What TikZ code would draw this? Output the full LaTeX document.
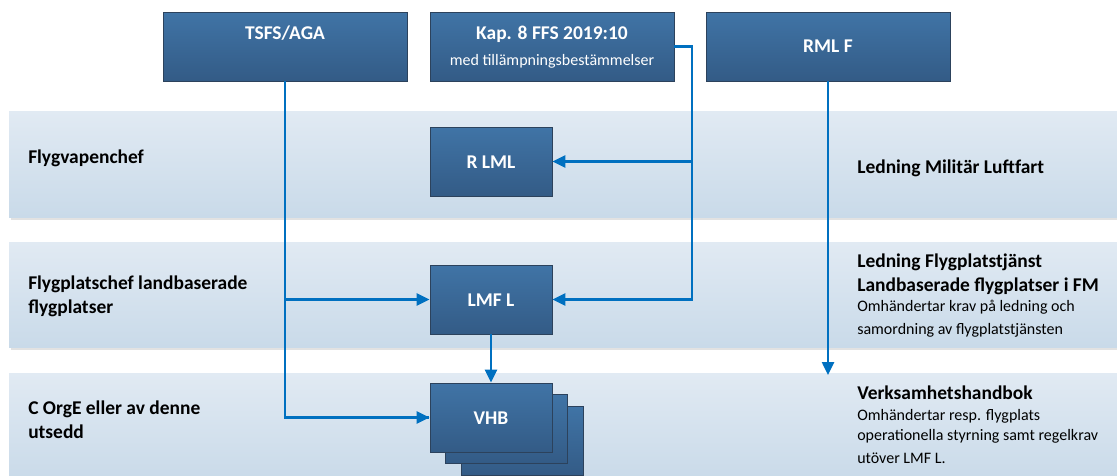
\documentclass[tikz,border=0pt]{standalone}
\usepackage{fontspec}
\setmainfont{Carlito}
\usetikzlibrary{arrows.meta,calc}
\definecolor{boxtop}{RGB}{64,116,166}
\definecolor{boxbot}{RGB}{51,91,134}
\definecolor{boxline}{RGB}{44,66,92}
\definecolor{bandtop}{RGB}{225,234,243}
\definecolor{bandbot}{RGB}{201,218,233}
\definecolor{shadowc}{RGB}{226,226,226}
\definecolor{conncol}{RGB}{0,112,192}
\tikzset{
  x=0.75pt, y=-0.75pt,
  box/.style={draw=boxline, line width=0.7pt, top color=boxtop, bottom color=boxbot,
    inner sep=0pt, minimum height={69*0.75pt}},
  boxtext/.style={text=white, font=\fontsize{14.6}{18}\selectfont\bfseries, anchor=base, inner sep=0pt},
  boxsmall/.style={text=white, font=\fontsize{12}{14}\selectfont, anchor=base, inner sep=0pt},
  lbl/.style={font=\fontsize{14.6}{18}\selectfont\bfseries, anchor=base west, inner sep=0pt},
  small/.style={font=\fontsize{12}{14}\selectfont, anchor=base west, inner sep=0pt},
  conn/.style={draw=conncol, line width=1.9pt, -{Triangle[length=9.75pt,width=9pt]}},
  plain/.style={draw=conncol, line width=1.9pt},
  band/.style={top color=bandtop, bottom color=bandbot, draw=none},
}
\begin{document}
\begin{tikzpicture}
\useasboundingbox (0,0) rectangle (1117,475);
\clip (0,0) rectangle (1117,475);
\fill[white] (0,0) rectangle (1117,475);
% bands
\fill[shadowc] (11,113) rectangle (1117,220);
\shade[band] (9,111) rectangle (1117,217);
\fill[shadowc] (11,244) rectangle (1117,350);
\shade[band] (9,242) rectangle (1117,347);
\shade[band] (9,373) rectangle (1117,480);
% band labels
\node[lbl] (l1) at (28,163) {Flygvapenchef};
\node[lbl] (l2a) at (28,289) {Flygplatschef landbaserade};
\node[lbl] (l2b) at (28,313) {flygplatser};
\node[lbl] (l3a) at (28,414) {C OrgE eller av denne};
\node[lbl] (l3b) at (28,438) {utsedd};
\node[lbl] (r1) at (857,173) {Ledning Militär Luftfart};
\node[lbl] (r2a) at (857,267) {Ledning Flygplatstjänst};
\node[lbl] (r2b) at (857,291) {Landbaserade flygplatser i FM};
\node[small] (r2c) at (857,311) {Omhändertar krav på ledning och};
\node[small] (r2d) at (857,334) {samordning av flygplatstjänsten};
\node[lbl] (r3a) at (857,399) {Verksamhetshandbok};
\node[small] (r3b) at (857,420) {Omhändertar resp. flygplats};
\node[small] (r3c) at (857,440) {operationella styrning samt regelkrav};
\node[small] (r3d) at (857,463) {utöver LMF L.};
% top boxes
\node[box, minimum width={244*0.75pt}] (tsfs) at (285,46.5) {};
\node[boxtext] (tsfst) at (285,39) {TSFS/AGA};
\node[box, minimum width={244*0.75pt}] (kap) at (552,46.5) {};
\node[boxtext] (kapt) at (552,39) {Kap. 8 FFS 2019:10};
\node[boxsmall] (kaps) at (552,65) {med tillämpningsbestämmelser};
\node[box, minimum width={244*0.75pt}] (rmlf) at (828,46.5) {};
\node[boxtext] (rmlft) at (828,52) {RML F};
% middle boxes
\node[box, minimum width={122*0.75pt}] (rlml) at (491,161.5) {};
\node[boxtext] (rlmlt) at (491,168) {R LML};
\node[box, minimum width={122*0.75pt}] (lmfl) at (491,299.5) {};
\node[boxtext] (lmflt) at (491,306) {LMF L};
% VHB stack
\node[box, minimum width={122*0.75pt}] (vhb3) at (522,440.5) {};
\node[box, minimum width={122*0.75pt}] (vhb2) at (506,428.5) {};
\node[box, minimum width={122*0.75pt}] (vhb) at (491,417.5) {};
\node[boxtext] (vhbt) at (491,424) {VHB};
% connectors
\coordinate (kapturn) at (692,46.5);
\coordinate (rmlend) at (828,375);
\draw[plain] (tsfs.south) |- ($(vhb.west)+(-1,0)$);
\draw[conn] (tsfs.south |- vhb.west) -- (vhb.west);
\draw[conn] (tsfs.south |- lmfl.west) -- (lmfl.west);
\draw[conn] (kap.east) -- (kapturn) |- (lmfl.east);
\draw[conn] (kapturn |- rlml.east) -- (rlml.east);
\draw[conn] (rmlf.south) -- (rmlend);
\draw[conn] (lmfl.south) -- (vhb.north);
\end{tikzpicture}
\end{document}
